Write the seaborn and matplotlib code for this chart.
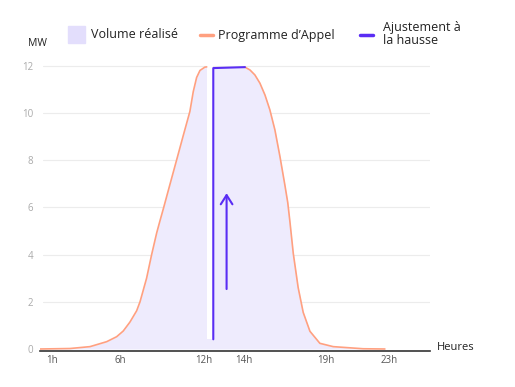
import matplotlib
matplotlib.use("Agg")
import matplotlib.pyplot as plt
from matplotlib.patches import Rectangle
from matplotlib.lines import Line2D
import seaborn as sns
import pandas as pd

# ---- data ----
# Programme d'Appel, rising part (before the adjustment)
left_hours = [0, 1.96, 3.27, 4.36, 5.01, 5.44, 5.88, 6.32, 6.54, 6.97, 7.3,
              7.63, 7.84, 8.06, 8.5, 8.93, 9.37, 9.8, 10.02, 10.24, 10.46,
              10.78, 10.9]
left_mw = [0.0, 0.02, 0.1, 0.31, 0.52, 0.76, 1.14, 1.62, 2.0, 3.0, 4.0,
           4.92, 5.42, 5.93, 6.98, 8.0, 9.05, 10.06, 10.9, 11.5, 11.8,
           11.94, 11.95]
# Programme d'Appel, falling part (after the adjustment)
right_hours = [13.4, 13.73, 14.05, 14.38, 14.71, 15.03, 15.36, 15.69, 16.01,
               16.2, 16.34, 16.56, 16.88, 17.21, 17.65, 18.3, 19.17, 21.13,
               22.55]
right_mw = [11.94, 11.82, 11.61, 11.26, 10.76, 10.13, 9.28, 8.15, 6.95,
            6.2, 5.4, 4.05, 2.6, 1.55, 0.75, 0.24, 0.1, 0.01, 0.0]

adj_hours = [11.33, 11.33, 13.4]
adj_mw = [0.41, 11.9, 11.94]

gap_hours = [10.9, 11.33]
gap_bottom = 0.41

arrow_hour = 12.2
arrow_from, arrow_to = 2.54, 6.6

tick_pos = [0.76, 5.23, 10.72, 13.33, 18.69, 22.81]
tick_labels = ["1h", "6h", "12h", "14h", "19h", "23h"]
y_ticks = [0, 2, 4, 6, 8, 10, 12]

ORANGE = "#FFA080"
BLUE = "#5A2DF4"
FILL = "#EEEBFD"
LEG_FILL = "#E3DEFC"

sns.set_theme(style="white")
FONT = ["Open Sans", "DejaVu Sans"]
plt.rcParams["font.family"] = FONT

fig = plt.figure(figsize=(5.15, 3.87), dpi=100)
ax = fig.add_axes([40 / 515, 36 / 387, 390 / 515, 290 / 387])
ax.set_xlim(0, 25.5)
ax.set_ylim(-0.085, 12.2)

# grid
for yv in y_ticks[1:]:
    ax.axhline(yv, xmin=0.008, xmax=1, color="#ECECEC", lw=0.8, zorder=0)

# filled volume
fill_x = left_hours + right_hours
fill_y = left_mw + right_mw
ax.fill_between(fill_x, 0, fill_y, color=FILL, zorder=1, lw=0)
ax.fill_between(gap_hours, gap_bottom, 12.1, color="white", zorder=1.5, lw=0)

dfl = pd.DataFrame({"h": left_hours, "mw": left_mw})
dfr = pd.DataFrame({"h": right_hours, "mw": right_mw})
sns.lineplot(data=dfl, x="h", y="mw", ax=ax, color=ORANGE, lw=1.2, zorder=3)
sns.lineplot(data=dfr, x="h", y="mw", ax=ax, color=ORANGE, lw=1.2, zorder=3)

dfa = pd.DataFrame({"h": adj_hours, "mw": adj_mw})
sns.lineplot(data=dfa, x="h", y="mw", ax=ax, color=BLUE, lw=1.5, sort=False,
             estimator=None, zorder=4)

ax.annotate("", xy=(arrow_hour, arrow_to), xytext=(arrow_hour, arrow_from),
            arrowprops=dict(arrowstyle="->,head_length=0.55,head_width=0.35",
                            color=BLUE, lw=1.5, shrinkA=0, shrinkB=0), zorder=5)

# axes styling
for s in ["top", "right", "left"]:
    ax.spines[s].set_visible(False)
ax.spines["bottom"].set_color("#333333")
ax.spines["bottom"].set_linewidth(1.2)
ax.set_xticks(tick_pos)
ax.set_xticklabels(tick_labels)
ax.set_yticks(y_ticks)
ax.set_yticklabels([str(v) for v in y_ticks])
ax.tick_params(axis="x", length=0, pad=3, labelsize=7, labelcolor="#555555")
ax.tick_params(axis="y", length=0, pad=5, labelsize=7, labelcolor="#AAAAAA")
ax.set_xlabel("")
ax.set_ylabel("")

fig.text(28 / 515, 1 - 44 / 387, "MW", fontsize=7.5, color="#222222",
         va="center", ha="left")
fig.text(437 / 515, 1 - 348 / 387, "Heures", fontsize=8, color="#222222",
         va="center", ha="left")

# legend (manual)
fig.patches.append(Rectangle((68 / 515, 1 - 43 / 387), 17 / 515, 17 / 387,
                             transform=fig.transFigure, color=LEG_FILL))
fig.text(91 / 515, 1 - 35 / 387, "Volume réalisé", fontsize=9, color="#222222",
         va="center", ha="left")
fig.lines.append(Line2D([200 / 515, 213 / 515], [1 - 35 / 387, 1 - 35 / 387],
                        transform=fig.transFigure, color=ORANGE, lw=2.5))
fig.text(218 / 515, 1 - 35 / 387, "Programme d\u2019Appel", fontsize=9,
         color="#222222", va="center", ha="left")
fig.lines.append(Line2D([360 / 515, 373 / 515], [1 - 35 / 387, 1 - 35 / 387],
                        transform=fig.transFigure, color=BLUE, lw=2.5))
fig.text(383 / 515, 1 - 34.5 / 387, "Ajustement à\nla hausse", fontsize=9,
         color="#222222", va="center", ha="left", linespacing=1.0)

fig.savefig("out.png", dpi=100)
